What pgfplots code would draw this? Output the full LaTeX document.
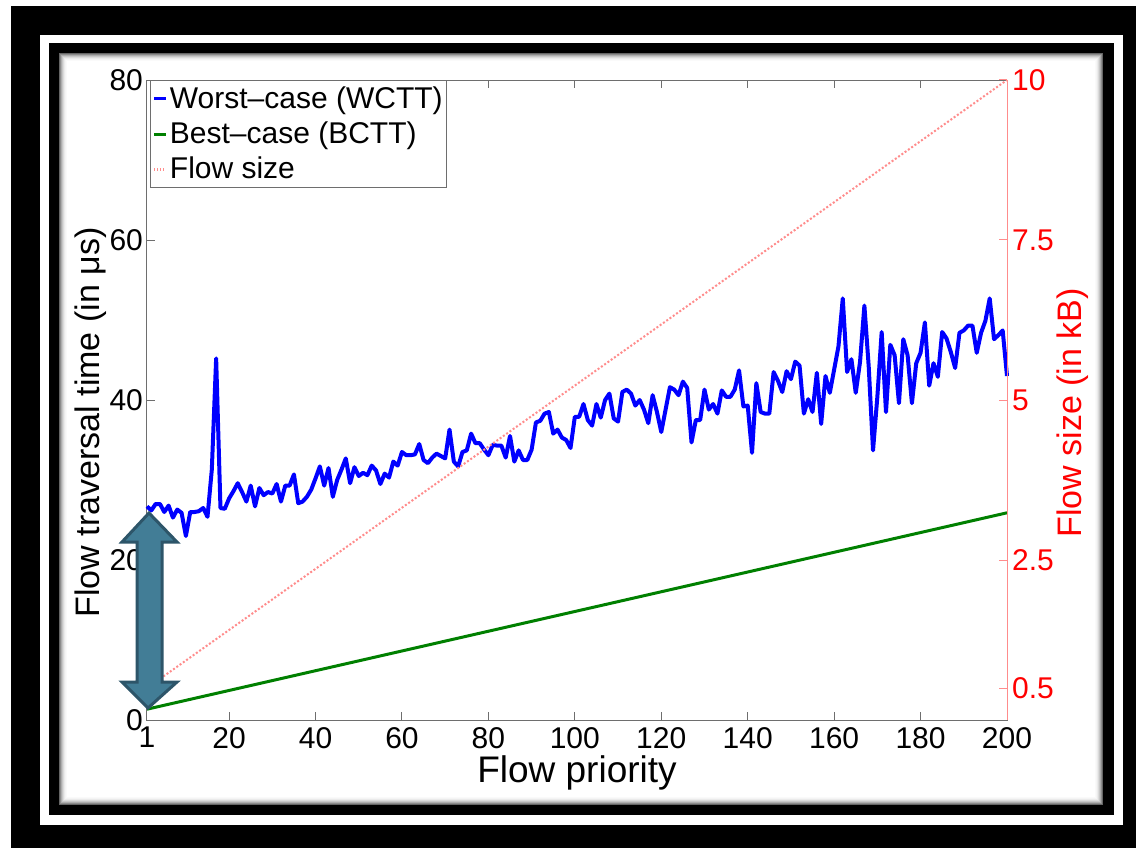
\documentclass[border=0pt]{standalone}
\usepackage{fontspec}
\setmainfont{Liberation Sans}
\usepackage{pgfplots}
\pgfplotsset{compat=1.18}
\definecolor{frgreen}{RGB}{0,128,0}
\definecolor{fsred}{RGB}{255,140,140}
\definecolor{arrowfill}{RGB}{66,125,150}
\definecolor{arrowdraw}{RGB}{45,85,105}
\definecolor{axgray}{RGB}{110,110,110}
\pgfplotstableread{
x y
1 26.7
2 26.2
3 27.0
4 27.0
5 26.0
6 26.8
7 25.3
8 26.3
9 25.9
10 23.0
11 26.0
12 26.0
13 26.1
14 26.5
15 25.4
16 31.3
17 45.2
18 26.5
19 26.4
20 27.7
21 28.6
22 29.6
23 28.5
24 27.3
25 29.3
26 26.7
27 29.0
28 28.1
29 28.5
30 28.3
31 29.5
32 27.3
33 29.3
34 29.3
35 30.7
36 27.1
37 27.3
38 27.9
39 28.8
40 30.2
41 31.7
42 29.3
43 31.5
44 27.9
45 30.0
46 31.3
47 32.7
48 29.6
49 31.6
50 30.5
51 30.9
52 30.6
53 31.8
54 31.2
55 29.5
56 30.8
57 30.3
58 32.3
59 31.8
60 33.5
61 33.1
62 33.1
63 33.2
64 34.5
65 32.5
66 32.1
67 32.8
68 33.3
69 33.0
70 32.7
71 36.3
72 32.3
73 31.7
74 33.5
75 33.7
76 35.8
77 34.6
78 34.6
79 33.8
80 33.1
81 34.4
82 34.3
83 34.3
84 32.8
85 35.5
86 32.3
87 33.7
88 32.5
89 32.5
90 33.8
91 37.2
92 37.4
93 38.3
94 38.5
95 35.8
96 36.3
97 35.3
98 35.0
99 34.0
100 37.9
101 37.9
102 39.5
103 37.5
104 36.8
105 39.5
106 37.8
107 40.0
108 40.8
109 37.7
110 37.3
111 41.0
112 41.3
113 40.8
114 39.3
115 40.0
116 38.8
117 37.1
118 40.6
119 38.5
120 36.0
121 38.8
122 41.6
123 41.3
124 40.6
125 42.3
126 41.5
127 34.7
128 37.5
129 37.5
130 41.3
131 38.8
132 39.5
133 38.3
134 41.2
135 40.4
136 40.4
137 41.3
138 43.7
139 39.2
140 39.3
141 33.4
142 42.1
143 38.5
144 38.3
145 38.3
146 43.5
147 42.4
148 41.0
149 43.6
150 42.6
151 44.8
152 44.3
153 38.3
154 40.1
155 38.5
156 43.4
157 37.0
158 43.0
159 40.9
160 43.8
161 46.7
162 52.7
163 43.5
164 45.1
165 40.9
166 44.8
167 51.8
168 44.2
169 33.7
170 40.4
171 48.5
172 38.5
173 46.9
174 45.6
175 39.6
176 47.6
177 45.6
178 39.6
179 44.6
180 45.9
181 49.7
182 41.8
183 44.6
184 42.9
185 48.5
186 47.7
187 46.0
188 44.0
189 48.4
190 48.7
191 49.3
192 49.3
193 45.9
194 48.4
195 49.9
196 52.7
197 47.6
198 48.1
199 48.7
200 43.0
}\wctt
\pgfplotstableread{
x y
1 1.35
200 25.9
}\bctt
\pgfplotstableread{
x y
1 0.5
200 10
}\fsize
\begin{document}
\begin{tikzpicture}
\path[use as bounding box] (0,0) rectangle (568pt,424pt);
\fill[white] (0,0) rectangle (568pt,424pt);
\fill[black] (5.5pt,0) rectangle (568pt,421pt);
\fill[white] (20pt,11.5pt) rectangle (561.5pt,406.5pt);
\fill[black] (24.5pt,16.5pt) rectangle (557pt,402.5pt);
\fill[white] (29.5pt,21.5pt) rectangle (551.5pt,397.5pt);
\foreach \i/\c in {0/60,1/45,2/32,3/22,4/14,5/8,6/4,7/2}{
  \pgfmathsetmacro\xa{29.75+0.5*\i}
  \pgfmathsetmacro\ya{21.75+0.5*\i}
  \pgfmathsetmacro\xb{551.25-0.5*\i}
  \pgfmathsetmacro\yb{397.25-0.5*\i}
  \draw[black!\c, line width=0.5pt] (\xa pt,\ya pt) rectangle (\xb pt,\yb pt);
}
\begin{axis}[
  at={(73.5pt,64pt)}, anchor=south west,
  scale only axis, width=430pt, height=320pt,
  xmin=1, xmax=200, ymin=0, ymax=80,
  xtick={1,20,40,60,80,100,120,140,160,180,200},
  ytick={0,20,40,60,80},
  xtick pos=both, ytick pos=left, tick align=inside,
  major tick length=4pt,
  axis line style={axgray, line width=0.5pt},
  every tick/.style={axgray, line width=0.5pt},
  tick label style={font=\fontsize{15}{15}\selectfont},
  yticklabel style={xshift=1.5pt},
  /pgf/number format/assume math mode=true,
  xlabel={Flow priority},
  ylabel={Flow traversal time (in μs)},
  xlabel style={font=\fontsize{18.5}{18.5}\selectfont, at={(axis description cs:0.5,-0.082)}, anchor=center},
  ylabel style={font=\fontsize{17}{17}\selectfont, at={(axis description cs:-0.065,0.465)}, anchor=center},
  legend style={at={(axis description cs:0.004,1)}, anchor=north west, draw=axgray,
    line width=0.5pt, font=\fontsize{15}{15}\selectfont, inner xsep=1pt, inner ysep=2pt,
    row sep=3.2pt, nodes={inner sep=1pt}},
  legend cell align=left,
  legend image code/.code={\draw[#1, line width=1.5pt] (0pt,0pt) -- (6pt,0pt);},
  clip=false,
]
\addplot[blue, line width=2pt, line join=round] table[x=x,y=y] {\wctt};
\addlegendentry{Worst–case (WCTT)}
\addplot[frgreen, line width=1.5pt] table[x=x,y=y] {\bctt};
\addlegendentry{Best–case (BCTT)}
\addlegendimage{fsred, densely dotted}
\addlegendentry{Flow size}
\end{axis}
\begin{axis}[
  at={(73.5pt,64pt)}, anchor=south west,
  scale only axis, width=430pt, height=320pt,
  xmin=1, xmax=200, ymin=0, ymax=10,
  axis x line=none, axis y line*=right,
  ytick={0.5,2.5,5,7.5,10},
  yticklabels={0.5,2.5,5,7.5,10},
  tick align=inside, major tick length=4pt,
  y axis line style={fsred, line width=0.5pt},
  every tick/.style={fsred, line width=0.5pt},
  yticklabel style={red, font=\fontsize{15}{15}\selectfont, xshift=-1pt},
  ylabel={Flow size (in kB)},
  ylabel style={red, font=\fontsize{17}{17}\selectfont, at={(axis description cs:1.076,0.48)}, anchor=center, rotate=0},
]
\addplot[fsred, densely dotted, line width=1pt] table[x=x,y=y] {\fsize};
\end{axis}
\filldraw[fill=arrowfill, draw=arrowdraw, line width=1.5pt, line join=miter]
  (74.5pt,167.5pt) -- (88.5pt,153pt) -- (81pt,153pt) -- (81pt,83pt) -- (88.5pt,83pt)
  -- (74pt,70pt) -- (61pt,83pt) -- (68.5pt,83pt) -- (68.5pt,153pt) -- (61pt,153pt) -- cycle;
\end{tikzpicture}
\end{document}
